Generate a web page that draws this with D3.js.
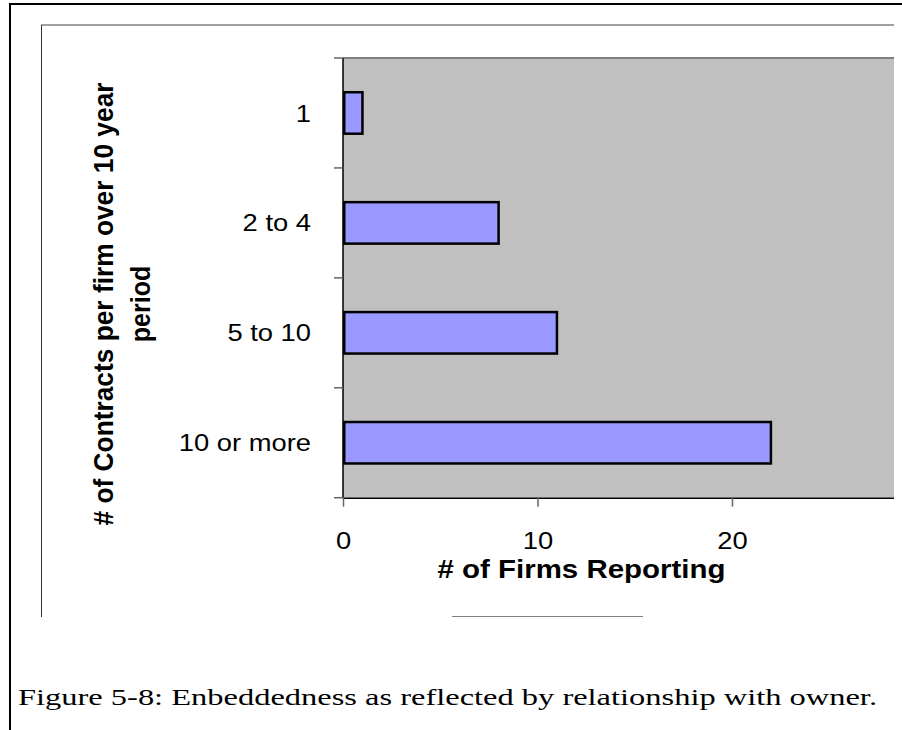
<!DOCTYPE html>
<html>
<head>
<meta charset="utf-8">
<script src="https://cdn.jsdelivr.net/npm/d3@7/dist/d3.min.js"></script>
<style>
  html, body { margin: 0; padding: 0; background: #fff; }
  svg { display: block; }
</style>
</head>
<body>
<svg id="fig" width="902" height="730"></svg>
<script>
// Data
const categories = ["1", "2 to 4", "5 to 10", "10 or more"];
const firmCounts = [1, 8, 11, 22];
const xTickValues = [0, 10, 20];
const xTitle = "# of Firms Reporting";
const yTitleLines = ["# of Contracts per firm over 10 year", "period"];
const caption = "Figure 5-8: Enbeddedness as reflected by relationship with owner.";

const rows = categories.map((c, i) => ({ category: c, value: firmCounts[i] }));

const W = 902, H = 730;
const svg = d3.select("#fig");

// Plot geometry (value axis runs 0..30, right part cut by the chart area edge)
const plot = { left: 343, top: 58, bottom: 497.7, clipRight: 894 };
const pxPerUnit = 19.45;

const x = d3.scaleLinear()
  .domain([0, 30])
  .range([plot.left, plot.left + 30 * pxPerUnit]);

const y = d3.scaleBand()
  .domain(categories)
  .range([plot.top, plot.bottom])
  .paddingInner(0)
  .paddingOuter(0);

const sansFont = "'Liberation Sans', Arial, sans-serif";
const serifFont = "'Liberation Serif', 'Times New Roman', serif";

// Outer document frame
svg.append("line").attr("x1", 10).attr("x2", 10).attr("y1", 3).attr("y2", H)
  .attr("stroke", "#000").attr("stroke-width", 2);
svg.append("line").attr("x1", 9).attr("x2", W).attr("y1", 4).attr("y2", 4)
  .attr("stroke", "#000").attr("stroke-width", 2);

// Chart area border pieces
svg.append("line").attr("x1", 41).attr("x2", plot.clipRight).attr("y1", 25).attr("y2", 25)
  .attr("stroke", "#a0a0a0").attr("stroke-width", 2);
svg.append("line").attr("x1", 41.5).attr("x2", 41.5).attr("y1", 25).attr("y2", 617)
  .attr("stroke", "#333").attr("stroke-width", 1);
svg.append("line").attr("x1", 452).attr("x2", 643).attr("y1", 616.5).attr("y2", 616.5)
  .attr("stroke", "#808080").attr("stroke-width", 1);

// Clip the chart to the visible chart area
svg.append("defs").append("clipPath").attr("id", "chartClip")
  .append("rect").attr("x", 0).attr("y", 0).attr("width", plot.clipRight).attr("height", H);

const g = svg.append("g").attr("clip-path", "url(#chartClip)");

// Plot area background
g.append("rect")
  .attr("x", x(0))
  .attr("y", plot.top)
  .attr("width", x.range()[1] - x(0))
  .attr("height", plot.bottom - plot.top)
  .attr("fill", "#c0c0c0");

// Plot area top edge
g.append("line")
  .attr("x1", x(0)).attr("x2", x.range()[1])
  .attr("y1", plot.top).attr("y2", plot.top)
  .attr("stroke", "#808080").attr("stroke-width", 2);

// Bars
const bw = y.bandwidth();
const sw = 2.5;
g.selectAll("rect.bar")
  .data(rows)
  .join("rect")
  .attr("class", "bar")
  .attr("x", x(0) + sw / 2)
  .attr("y", d => y(d.category) + bw * 0.3 + sw / 2)
  .attr("width", d => x(d.value) - x(0) - sw / 2)
  .attr("height", bw * 0.4 - sw)
  .attr("fill", "#9999ff")
  .attr("stroke", "#000")
  .attr("stroke-width", sw);

// X axis
const xAxis = g.append("g")
  .attr("transform", `translate(0,${plot.bottom})`)
  .call(d3.axisBottom(x).tickValues(xTickValues).tickSize(9).tickSizeOuter(0));
xAxis.select(".domain").attr("stroke", "#000").attr("stroke-width", 1.5);
xAxis.selectAll(".tick line").attr("stroke", "#666").attr("stroke-width", 1.5);
xAxis.selectAll(".tick text")
  .attr("y", 51.3)
  .attr("dy", null)
  .attr("fill", "#000")
  .attr("font-family", sansFont)
  .attr("font-size", 24)
  .attr("transform", "scale(1.14,1)");

// Y axis: line, ticks between categories, labels at band centres
const yAxis = g.append("g");
yAxis.append("line")
  .attr("x1", x(0)).attr("x2", x(0))
  .attr("y1", plot.top).attr("y2", plot.bottom)
  .attr("stroke", "#000").attr("stroke-width", 1.5);
const tickPositions = categories.map(c => y(c)).concat([y.range()[1]]);
yAxis.selectAll("line.ytick")
  .data(tickPositions)
  .join("line")
  .attr("class", "ytick")
  .attr("x1", x(0) - 9).attr("x2", x(0))
  .attr("y1", d => d).attr("y2", d => d)
  .attr("stroke", "#666").attr("stroke-width", 1.5);
yAxis.selectAll("text.ylab")
  .data(categories)
  .join("text")
  .attr("class", "ylab")
  .attr("transform", c => `translate(311,${y(c) + bw / 2 + 8.6}) scale(1.14,1)`)
  .attr("text-anchor", "end")
  .attr("font-family", sansFont)
  .attr("font-size", 24)
  .attr("fill", "#000")
  .text(c => c);

// Axis titles
svg.append("text")
  .attr("x", 437.5)
  .attr("y", 578)
  .attr("font-family", sansFont)
  .attr("font-weight", "bold")
  .attr("font-size", 25)
  .attr("textLength", 288)
  .attr("lengthAdjust", "spacingAndGlyphs")
  .attr("fill", "#000")
  .text(xTitle);

const yTitleBaselines = [113, 150];
const yTitleLengths = [443, null];
yTitleLines.forEach((line, i) => {
  const t = svg.append("text")
    .attr("transform", `translate(${yTitleBaselines[i]},304) scale(1.12,1) rotate(-90)`)
    .attr("text-anchor", "middle")
    .attr("font-family", sansFont)
    .attr("font-weight", "bold")
    .attr("font-size", 25)
    .attr("fill", "#000")
    .text(line);
  if (yTitleLengths[i]) {
    t.attr("textLength", yTitleLengths[i]).attr("lengthAdjust", "spacingAndGlyphs");
  }
});

// Figure caption
svg.append("text")
  .attr("x", 18)
  .attr("y", 705)
  .attr("font-family", serifFont)
  .attr("font-size", 24)
  .attr("textLength", 859)
  .attr("lengthAdjust", "spacingAndGlyphs")
  .attr("fill", "#000")
  .text(caption);
</script>
</body>
</html>
